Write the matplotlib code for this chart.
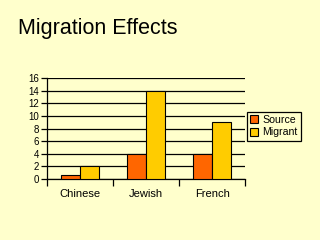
import numpy as np
import matplotlib.pyplot as plt

plt.rcParams["font.family"] = ["Liberation Sans", "DejaVu Sans"]

categories = ["Chinese", "Jewish", "French"]
source = [0.6, 4, 4]
migrant = [2, 14, 9]
series_names = ["Source", "Migrant"]
yticks = [0, 2, 4, 6, 8, 10, 12, 14, 16]

bg = "#FFFFCC"
colors = ["#FF6600", "#FFCC00"]

fig = plt.figure(figsize=(3.2, 2.4), dpi=100, facecolor=bg)
ax = fig.add_axes([0.147, 0.254, 0.619, 0.421])
ax.set_facecolor(bg)

x = np.arange(len(categories))
w = 0.29
b1 = ax.bar(x - w / 2, source, width=w, color=colors[0], edgecolor="black", linewidth=0.8, zorder=3)
b2 = ax.bar(x + w / 2, migrant, width=w, color=colors[1], edgecolor="black", linewidth=0.8, zorder=3)

ax.set_xlim(-0.5, len(categories) - 0.5)
ax.set_ylim(0, 16)
ax.set_yticks(yticks)
ax.set_yticklabels([str(v) for v in yticks], fontsize=7)
ax.yaxis.grid(True, color="black", linewidth=0.9, zorder=1)

# ticks between categories, labels centred under groups
ax.set_xticks(np.arange(len(categories) + 1) - 0.5)
ax.set_xticklabels([])
ax.set_xticks(x, minor=True)
ax.set_xticklabels(categories, minor=True, fontsize=8)
ax.tick_params(axis="x", which="major", direction="out", length=5, width=0.9, color="black")
ax.tick_params(axis="x", which="minor", length=0, pad=7)
ax.tick_params(axis="y", direction="out", length=4, width=0.9, pad=2)

for s in ["top", "right"]:
    ax.spines[s].set_visible(False)
for s in ["left", "bottom"]:
    ax.spines[s].set_linewidth(0.9)

fig.text(0.055, 0.88, "Migration Effects", fontsize=15.5, ha="left", va="center")

leg = fig.legend([b1, b2], series_names, loc="upper left", bbox_to_anchor=(0.771, 0.535),
                 fontsize=7.6, frameon=True, fancybox=False, edgecolor="black",
                 facecolor=bg, framealpha=1, handlelength=0.8, handleheight=0.8,
                 handletextpad=0.4, borderpad=0.3, labelspacing=0.25, borderaxespad=0)
leg.get_frame().set_linewidth(0.9)

fig.savefig("out.png", dpi=100, facecolor=bg)
